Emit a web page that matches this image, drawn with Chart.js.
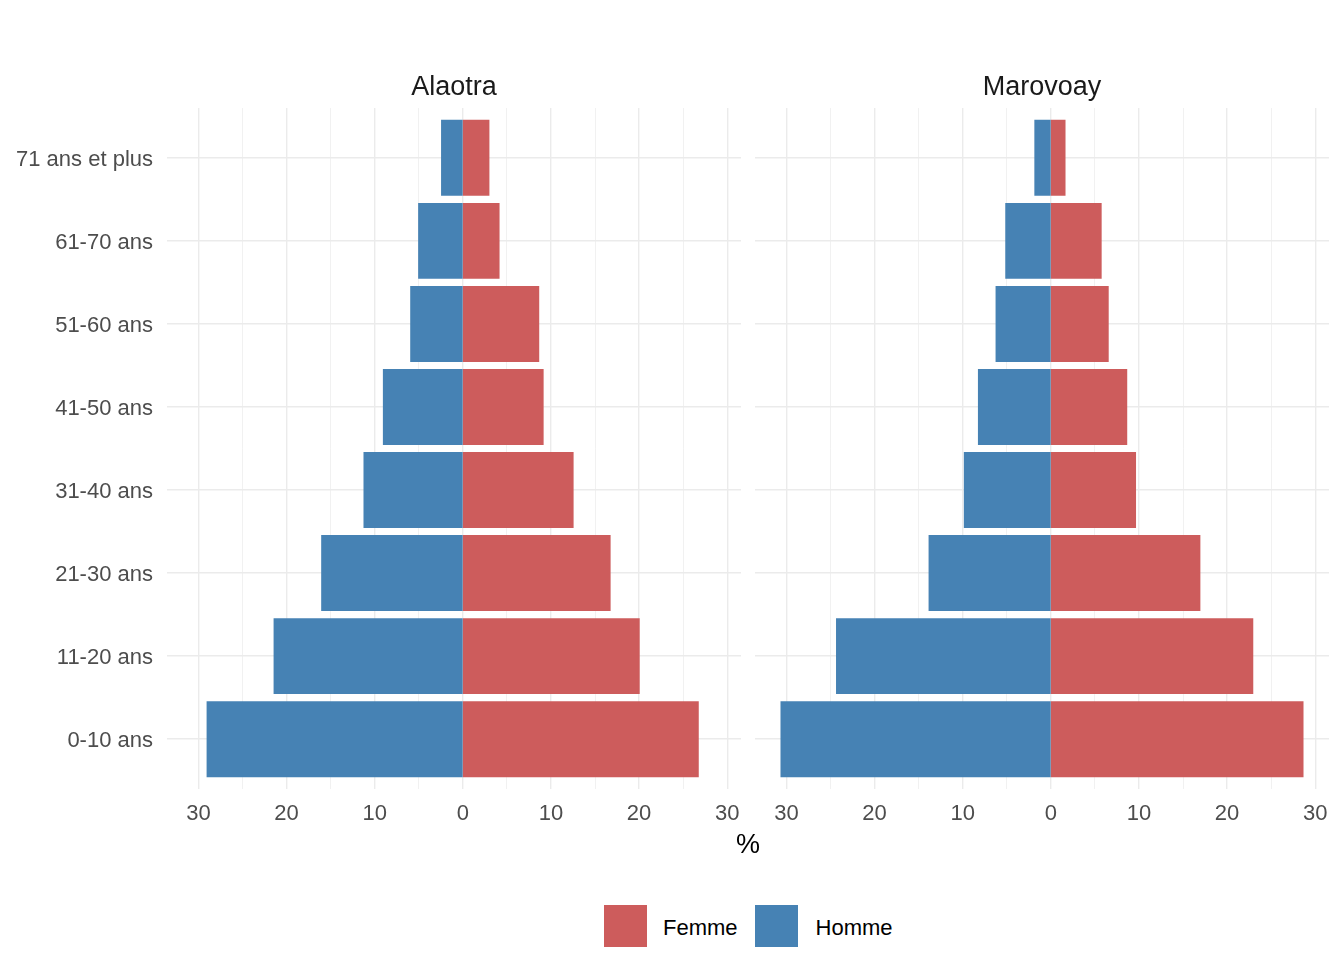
<!DOCTYPE html>
<html>
<head>
<meta charset="utf-8">
<script src="https://cdn.jsdelivr.net/npm/chart.js@4.4.1/dist/chart.umd.min.js"></script>
<style>
  body { margin: 0; background: #fff; width: 1344px; height: 979px; position: relative; overflow: hidden;
         font-family: "Liberation Sans", Arial, sans-serif; }
  canvas { position: absolute; top: 0; }
  .strip { position: absolute; top: 71px; font-size: 27px; color: #1a1a1a; transform: translateX(-50%); white-space: nowrap; }
  .xtitle { position: absolute; top: 829px; left: 748px; font-size: 27px; color: #000; transform: translateX(-50%); }
  .legend { position: absolute; top: 905px; left: 604px; display: flex; align-items: center; font-size: 22px; color: #000; }
  .key { width: 43px; height: 42px; display: inline-block; }
  .lab { margin-left: 16px; margin-right: 17px; position: relative; top: 2px; }
  .lab2 { margin-left: 18px; position: relative; top: 2px; }
</style>
</head>
<body>
<canvas id="alaotraCanvas" width="741" height="850" style="left:0px"></canvas>
<canvas id="marovoayCanvas" width="574" height="850" style="left:755px"></canvas>
<div class="strip" style="left:454px">Alaotra</div>
<div class="strip" style="left:1042px">Marovoay</div>
<div class="xtitle">%</div>
<div class="legend">
  <span class="key" style="background:#CD5C5C"></span><span class="lab">Femme</span>
  <span class="key" style="background:#4682B4"></span><span class="lab2">Homme</span>
</div>
<script>
  // age groups, bottom to top
  const ageGroups = ["0-10 ans", "11-20 ans", "21-30 ans", "31-40 ans", "41-50 ans", "51-60 ans", "61-70 ans", "71 ans et plus"];
  const alaotraFemme = [26.7, 20.0, 16.7, 12.5, 9.1, 8.6, 4.1, 2.95];
  const alaotraHomme = [29.0, 21.4, 16.0, 11.2, 9.0, 5.9, 5.0, 2.4];
  const marovoayFemme = [28.6, 22.9, 16.9, 9.6, 8.6, 6.5, 5.7, 1.6];
  const marovoayHomme = [30.6, 24.3, 13.8, 9.8, 8.2, 6.2, 5.1, 1.8];
  const xTicks = [-30, -25, -20, -15, -10, -5, 0, 5, 10, 15, 20, 25, 30];

  const femmeColor = "#CD5C5C";
  const hommeColor = "#4682B4";
  const gridColor = "#EBEBEB";
  const tickColor = "#4D4D4D";
  const fontFamily = "'Liberation Sans', Arial, sans-serif";

  // shared x range with ggplot-like 5% expansion
  const allHomme = alaotraHomme.concat(marovoayHomme);
  const allFemme = alaotraFemme.concat(marovoayFemme);
  const lo = -Math.max(...allHomme);
  const hi = Math.max(...allFemme);
  const pad = (hi - lo) * 0.05;

  function makeChart(canvas, femme, homme, showLabels) {
    return new Chart(canvas.getContext("2d"), {
      type: "bar",
      data: {
        datasets: [
          {
            label: "Femme",
            data: femme.map((v, i) => ({ x: v, y: i })),
            backgroundColor: femmeColor,
            borderWidth: 0,
            inflateAmount: 0.6,
            categoryPercentage: 0.9,
            barPercentage: 1.0,
          },
          {
            label: "Homme",
            data: homme.map((v, i) => ({ x: -v, y: i })),
            backgroundColor: hommeColor,
            borderWidth: 0,
            inflateAmount: 0.6,
            categoryPercentage: 0.9,
            barPercentage: 1.0,
          },
        ],
      },
      options: {
        indexAxis: "y",
        responsive: false,
        animation: false,
        devicePixelRatio: 1,
        layout: { padding: { top: 108, left: 0, right: 0, bottom: 0 } },
        plugins: { legend: { display: false }, tooltip: { enabled: false } },
        scales: {
          x: {
            type: "linear",
            stacked: true,
            min: lo - pad,
            max: hi + pad,
            afterBuildTicks: (s) => { s.ticks = xTicks.map((v) => ({ value: v })); },
            afterFit: (s) => { s.height = 61; s.paddingLeft = 0; s.paddingRight = 0; },
            border: { display: false },
            grid: {
              color: gridColor,
              drawTicks: false,
              lineWidth: (ctx) => (ctx.tick && ctx.tick.value % 10 === 0 ? 1.4 : 0.7),
            },
            ticks: {
              autoSkip: false,
              maxRotation: 0,
              padding: 12,
              color: tickColor,
              font: { family: fontFamily, size: 22 },
              callback: (v) => (v % 10 === 0 ? Math.abs(v) : ""),
            },
          },
          y: {
            type: "linear",
            stacked: true,
            offset: false,
            min: -0.6,
            max: ageGroups.length - 1 + 0.6,
            afterBuildTicks: (s) => { s.ticks = ageGroups.map((g, i) => ({ value: i })); },
            afterFit: (s) => { s.width = showLabels ? 167 : 0; s.paddingTop = 0; s.paddingBottom = 0; },
            border: { display: false },
            grid: { color: gridColor, lineWidth: 1.4, drawTicks: false, offset: false },
            ticks: {
              display: showLabels,
              autoSkip: false,
              padding: 14,
              labelOffset: 2,
              color: tickColor,
              font: { family: fontFamily, size: 22 },
              callback: (v) => ageGroups[v],
            },
          },
        },
      },
    });
  }

  makeChart(document.getElementById("alaotraCanvas"), alaotraFemme, alaotraHomme, true);
  makeChart(document.getElementById("marovoayCanvas"), marovoayFemme, marovoayHomme, false);
</script>
</body>
</html>
